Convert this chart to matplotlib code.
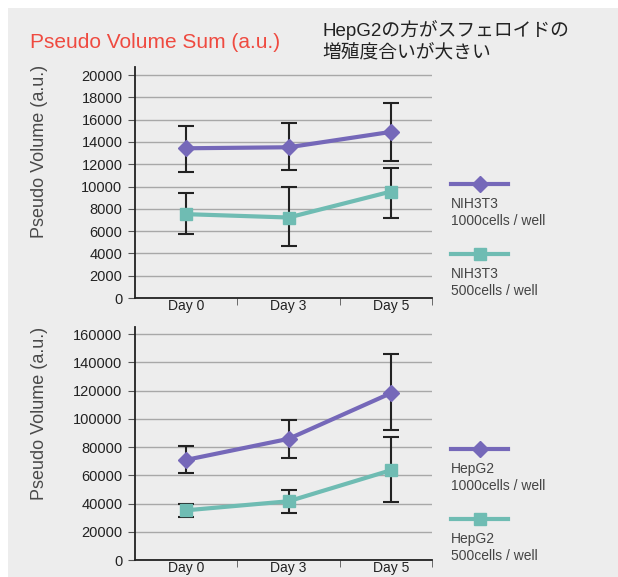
import matplotlib
matplotlib.use('Agg')
import matplotlib.pyplot as plt
from matplotlib.patches import Rectangle
from matplotlib.lines import Line2D
import numpy as np

plt.rcParams['font.family'] = ['Liberation Sans', 'Noto Sans CJK JP', 'DejaVu Sans']

# data
days = ['Day 0', 'Day 3', 'Day 5']

nih_1000 = [13430, 13520, 14900]
nih_1000_lo = [11340, 11520, 12270]
nih_1000_hi = [15460, 15670, 17460]
nih_500 = [7520, 7220, 9550]
nih_500_lo = [5730, 4660, 7220]
nih_500_hi = [9400, 9940, 11700]

hep_1000 = [70900, 85800, 118200]
hep_1000_lo = [61700, 72300, 92400]
hep_1000_hi = [80600, 99300, 145600]
hep_500 = [35200, 41600, 63600]
hep_500_lo = [30500, 33100, 41100]
hep_500_hi = [40000, 49400, 86800]

top_ticks = [0, 2000, 4000, 6000, 8000, 10000, 12000, 14000, 16000, 18000, 20000]
bot_ticks = [0, 20000, 40000, 60000, 80000, 100000, 120000, 140000, 160000]

purple = '#7568b9'
teal = '#6fbcb3'
bg = '#ededed'
W, H = 618, 577

fig = plt.figure(figsize=(W / 100, H / 100), dpi=100, facecolor='white')
fig.patches.append(Rectangle((8 / W, 0), 1, 1 - 8 / H, transform=fig.transFigure,
                             facecolor=bg, edgecolor='none', zorder=-10))


def panel(ax, s1, lo1, hi1, s2, lo2, hi2, ticks, ytop, label_y):
    x = np.arange(len(days))
    ax.set_facecolor(bg)
    for s, lo, hi, c, m, ms in [(s1, lo1, hi1, purple, 'D', 8),
                                (s2, lo2, hi2, teal, 's', 9)]:
        s = np.array(s)
        err = [s - np.array(lo), np.array(hi) - s]
        ax.errorbar(x, s, yerr=err, fmt='none', ecolor='#222222', elinewidth=1.5,
                    capsize=6, capthick=1.5, zorder=2)
        ax.plot(x, s, color=c, lw=3, marker=m, ms=ms, zorder=3)
    ax.set_xlim(-0.5, 2.4)
    ax.set_ylim(0, ytop)
    ax.set_yticks(ticks)
    ax.set_yticklabels([str(t) for t in ticks], fontsize=10.5, color='#222222')
    ax.set_xticks(x)
    ax.set_xticklabels(days, fontsize=10, color='#222222')
    ax.set_xticks([0.5, 1.5, 2.4], minor=True)
    ax.tick_params(axis='x', which='major', length=0, pad=1)
    ax.tick_params(axis='x', which='minor', length=5, direction='out', color='#555555')
    ax.tick_params(axis='y', length=5, direction='out', color='#555555', pad=4)
    ax.grid(axis='y', color='#a8a8a8', lw=1)
    ax.set_axisbelow(True)
    for sp in ['top', 'right']:
        ax.spines[sp].set_visible(False)
    for sp in ['left', 'bottom']:
        ax.spines[sp].set_color('#222222')
        ax.spines[sp].set_linewidth(1.3)
    ax.set_ylabel('Pseudo Volume (a.u.)', fontsize=13, color='#4a4a4a')
    ax.yaxis.set_label_coords(-0.293, label_y)


ax1 = fig.add_axes([135 / W, 1 - 298 / H, 297 / W, 231 / H])
panel(ax1, nih_1000, nih_1000_lo, nih_1000_hi, nih_500, nih_500_lo, nih_500_hi,
      top_ticks, 20720, 0.636)

ax2 = fig.add_axes([135 / W, 1 - 560 / H, 297 / W, 233 / H])
panel(ax2, hep_1000, hep_1000_lo, hep_1000_hi, hep_500, hep_500_lo, hep_500_hi,
      bot_ticks, 165000, 0.63)

# legend keys
legend_items = [
    (184, purple, 'D', 8, 'NIH3T3\n1000cells / well'),
    (254, teal, 's', 9, 'NIH3T3\n500cells / well'),
    (449, purple, 'D', 8, 'HepG2\n1000cells / well'),
    (519, teal, 's', 9, 'HepG2\n500cells / well'),
]
for y, c, m, ms, lab in legend_items:
    fig.add_artist(Line2D([451 / W, 508 / W], [1 - y / H, 1 - y / H], color=c, lw=3,
                          transform=fig.transFigure))
    fig.add_artist(Line2D([480 / W], [1 - y / H], color=c, marker=m, ms=ms,
                          transform=fig.transFigure))
    fig.text(451 / W, 1 - (y + 13) / H, lab, fontsize=10, color='#444444',
             va='top', ha='left', linespacing=1.3)

fig.text(30 / W, 1 - 42 / H, 'Pseudo Volume Sum (a.u.)', fontsize=15,
         color='#ef4a40', va='center', ha='left')
fig.text(322 / W, 1 - 41 / H, 'HepG2の方がスフェロイドの\n増殖度合いが大きい', fontsize=13.5,
         color='#222222', va='center', ha='left', linespacing=1.4)

fig.savefig('out.png', dpi=100, facecolor='white')
